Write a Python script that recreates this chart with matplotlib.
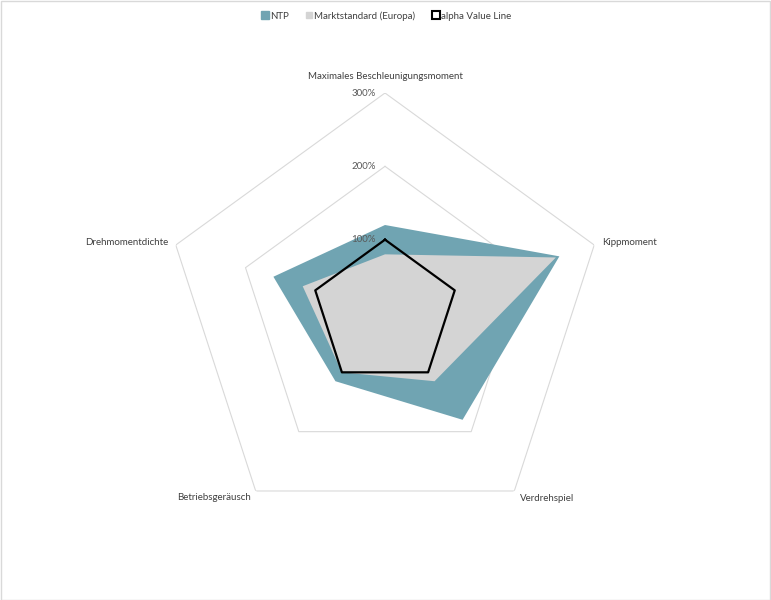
import numpy as np
import matplotlib
matplotlib.use("Agg")
import matplotlib.pyplot as plt
from matplotlib.lines import Line2D
from matplotlib.patches import Rectangle
import matplotlib.transforms as mtransforms

categories = ["Maximales Beschleunigungsmoment", "Kippmoment", "Verdrehspiel",
              "Betriebsgeräusch", "Drehmomentdichte"]
ntp = [120, 250, 180, 115, 160]
markt = [80, 245, 115, 100, 118]
alpha_line = [100, 100, 100, 100, 100]
rings = [100, 200, 300]
ring_labels = ["100%", "200%", "300%"]
series_names = ["NTP", "Marktstandard (Europa)", "alpha Value Line"]

C_NTP = "#70A4B2"
C_MARKT = "#D4D4D4"
C_GRID = "#D9D9D9"
C_TEXT = "#404040"

plt.rcParams['font.family'] = ['Lato', 'DejaVu Sans']

W, H = 771, 600
fig = plt.figure(figsize=(W / 100, H / 100), dpi=100)
cx, cy, R = 385, 313, 220
ax = fig.add_axes([(cx - R) / W, (H - cy - R) / H, 2 * R / W, 2 * R / H], projection='polar')
ax.set_theta_zero_location('N')
ax.set_theta_direction(-1)
ax.set_ylim(0, 300)
ax.grid(False)
ax.spines['polar'].set_visible(False)
ax.set_xticks([])
ax.set_yticks([])
ax.patch.set_alpha(0)

n = len(categories)
theta = np.arange(n) * 2 * np.pi / n
th_c = np.append(theta, theta[0])

def closed(v):
    return np.append(v, v[0])

for r in rings:
    ax.plot(th_c, closed([r] * n), color=C_GRID, lw=0.8, zorder=1)

ax.fill(th_c, closed(ntp), color=C_NTP, lw=0, zorder=2)
ax.fill(th_c, closed(markt), color=C_MARKT, lw=0, zorder=3)
ax.plot(th_c, closed(alpha_line), color='black', lw=1.6, zorder=4)

FS = 7.0
off = mtransforms.offset_copy(ax.transData, fig=fig, x=-9, y=0, units='dots')
for r, lab in zip(rings, ring_labels):
    ax.text(0, r, lab, transform=off, ha='right', va='center', fontsize=FS,
            color='#595959', zorder=5)

aligns = [('center', 'center', 322), ('left', 'center', 312), ('left', 'center', 312),
          ('right', 'center', 311), ('right', 'center', 311)]
for t, lab, (ha, va, rr) in zip(theta, categories, aligns):
    ax.text(t, rr, lab, ha=ha, va=va, fontsize=FS, color=C_TEXT)

handles = [
    Line2D([], [], marker='s', ls='none', markersize=5.5, markerfacecolor=C_NTP, markeredgecolor=C_NTP),
    Line2D([], [], marker='s', ls='none', markersize=5, markerfacecolor=C_MARKT, markeredgecolor=C_MARKT),
    Line2D([], [], marker='s', ls='none', markersize=5.5, markerfacecolor='white', markeredgecolor='black',
           markeredgewidth=1.5),
]
leg = fig.legend(handles, series_names, loc='center', bbox_to_anchor=(0.5, 1 - 16 / H), ncol=3,
                 frameon=False, fontsize=FS, handletextpad=0.0, columnspacing=1.6,
                 handlelength=1.0)
for txt in leg.get_texts():
    txt.set_color(C_TEXT)

fig.patches.append(Rectangle((0.5 / W, 0.5 / H), 1 - 1.5 / W, 1 - 1.5 / H, transform=fig.transFigure,
                             fill=False, edgecolor=C_GRID, lw=1))

fig.savefig("out.png", dpi=100, facecolor='white')
